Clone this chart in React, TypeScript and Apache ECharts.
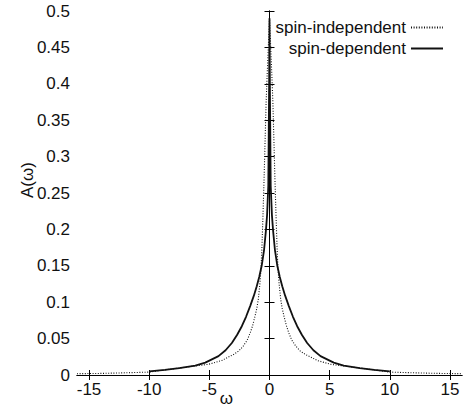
import React, { useEffect, useRef } from "react";
import * as echarts from "echarts";

const xTicks = [-15, -10, -5, 0, 5, 10, 15];

// spin-dependent (solid)
const sdOmega = [
  -10, -8.7, -7.5, -6.17, -5.34, -4.24, -3.65, -3.13, -2.7, -2.3, -1.95, -1.6, -1.3, -1.06, -0.85, -0.65, -0.45, -0.3, -0.2, -0.1, -0.03,
  0,
  0.03, 0.1, 0.2, 0.3, 0.45, 0.65, 0.85, 1.06, 1.3, 1.6, 1.95, 2.3, 2.7, 3.13, 3.65, 4.24, 5.34, 6.17, 7.5, 8.7, 10,
];
const sdValue = [
  0.005, 0.007, 0.0095, 0.013, 0.017, 0.026, 0.034, 0.044, 0.055, 0.067, 0.08, 0.095, 0.109, 0.122, 0.135, 0.15, 0.172, 0.198, 0.22, 0.26, 0.4,
  0.49,
  0.4, 0.26, 0.22, 0.198, 0.172, 0.15, 0.135, 0.122, 0.109, 0.095, 0.08, 0.067, 0.055, 0.044, 0.034, 0.026, 0.017, 0.013, 0.0095, 0.007, 0.005,
];

// spin-independent (dotted)
const siOmega = [
  -16, -14, -12, -10, -8.7, -7.3, -6.17, -5.07, -3.96, -3.5, -3.0, -2.55, -2.17, -1.85, -1.6, -1.4, -1.2, -1.05, -0.93, -0.8, -0.7, -0.63, -0.55, -0.45, -0.37, -0.28, -0.2, -0.1,
  0,
  0.1, 0.2, 0.28, 0.37, 0.45, 0.55, 0.63, 0.7, 0.8, 0.93, 1.05, 1.2, 1.4, 1.6, 1.85, 2.17, 2.55, 3.0, 3.5, 3.96, 5.07, 6.17, 7.3, 8.7, 10, 12, 14, 16,
];
const siValue = [
  0.0018, 0.0022, 0.003, 0.004, 0.007, 0.01, 0.0124, 0.0147, 0.02, 0.024, 0.028, 0.033, 0.04, 0.048, 0.058, 0.068, 0.081, 0.092, 0.104, 0.125, 0.148, 0.175, 0.215, 0.27, 0.32, 0.375, 0.41, 0.45,
  0.49,
  0.45, 0.41, 0.375, 0.32, 0.27, 0.215, 0.175, 0.148, 0.125, 0.104, 0.092, 0.081, 0.068, 0.058, 0.048, 0.04, 0.033, 0.028, 0.024, 0.02, 0.0147, 0.0124, 0.01, 0.007, 0.004, 0.003, 0.0022, 0.0018,
];

const FONT = "'Liberation Sans', Arial, Helvetica, sans-serif";
const TXT = "#111";

export default function App() {
  const ref = useRef<HTMLDivElement>(null);
  useEffect(() => {
    if (!ref.current) return;
    const chart = echarts.init(ref.current, undefined, { renderer: "svg" });
    const axisLine = { show: true, lineStyle: { color: "#000", width: 1 } };
    chart.setOption({
      animation: false,
      textStyle: { fontFamily: FONT },
      grid: { left: 77, right: 4, top: 11, bottom: 34, containLabel: false, outerBoundsMode: "none" },
      legend: {
        orient: "vertical",
        right: 17,
        top: 14,
        align: "right",
        itemWidth: 32,
        itemHeight: 14,
        itemGap: 4,
        itemStyle: { opacity: 0, borderWidth: 0 },
        textStyle: { fontSize: 17, color: TXT, fontFamily: FONT },
        data: ["spin-independent", "spin-dependent"],
      },
      xAxis: [
        {
          type: "value",
          min: -16,
          max: 16,
          position: "bottom",
          axisLine,
          axisTick: { show: true, inside: true, length: 5, customValues: xTicks, lineStyle: { color: "#000" } },
          axisLabel: { customValues: xTicks, fontSize: 17, color: TXT, margin: 6, fontFamily: FONT },
          splitLine: { show: false },
          name: "ω",
          nameLocation: "middle",
          nameGap: 15,
          nameMoveOverlap: false,
          nameTextStyle: { fontSize: 17, color: TXT, padding: [0, 86, 0, 0], fontFamily: FONT },
        },
        {
          type: "value",
          min: -16,
          max: 16,
          position: "top",
          axisLine,
          axisTick: { show: true, inside: true, length: 5, customValues: xTicks, lineStyle: { color: "#000" } },
          axisLabel: { show: false },
          splitLine: { show: false },
        },
      ],
      yAxis: [
        {
          type: "value",
          min: 0,
          max: 0.5,
          interval: 0.05,
          position: "left",
          axisLine,
          axisTick: { show: true, inside: true, length: 5, lineStyle: { color: "#000" } },
          axisLabel: {
            fontSize: 17,
            color: TXT,
            margin: 7,
            fontFamily: FONT,
            formatter: (v: number) => String(+v.toFixed(2)),
          },
          splitLine: { show: false },
          name: "A(ω)",
          nameLocation: "middle",
          nameGap: 41,
          nameMoveOverlap: false,
          nameTextStyle: { fontSize: 17, color: TXT, padding: [0, 0, 0, 26], fontFamily: FONT },
        },
        {
          type: "value",
          min: 0,
          max: 0.5,
          interval: 0.05,
          position: "right",
          axisLine,
          axisTick: { show: true, inside: true, length: 5, lineStyle: { color: "#000" } },
          axisLabel: { show: false },
          splitLine: { show: false },
        },
      ],
      series: [
        {
          name: "spin-independent",
          type: "line",
          xAxisIndex: 0,
          yAxisIndex: 0,
          symbol: "none",
          showSymbol: false,
          data: siOmega.map((w, i) => [w, siValue[i]]),
          lineStyle: { color: "#111", width: 1.1, type: [1, 1.6] },
          itemStyle: { color: "#111" },
        },
        {
          name: "spin-dependent",
          type: "line",
          xAxisIndex: 0,
          yAxisIndex: 0,
          symbol: "none",
          showSymbol: false,
          data: sdOmega.map((w, i) => [w, sdValue[i]]),
          lineStyle: { color: "#111", width: 1.8, type: "solid" },
          itemStyle: { color: "#111" },
        },
      ],
    });
    return () => chart.dispose();
  }, []);
  return (
    <div
      ref={ref}
      style={{ position: "fixed", left: 0, top: 0, width: 466, height: 409, background: "#fff" }}
    />
  );
}
